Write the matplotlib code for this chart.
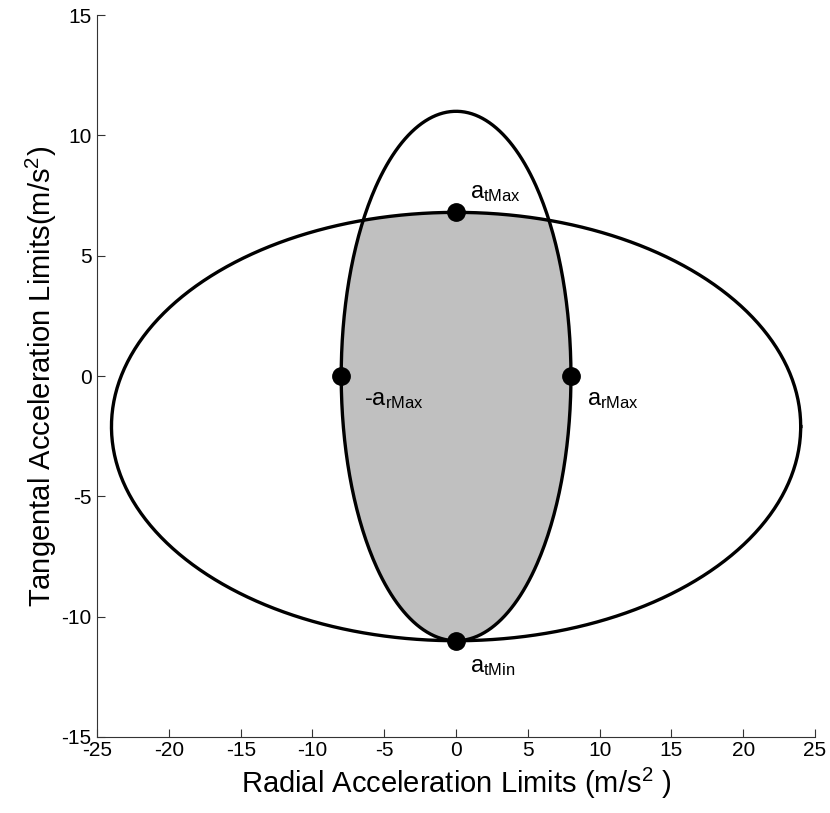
import numpy as np
import matplotlib
matplotlib.use("Agg")
import matplotlib.pyplot as plt

plt.rcParams["font.family"] = ["Liberation Sans", "DejaVu Sans"]
plt.rcParams["mathtext.fontset"] = "custom"
plt.rcParams["mathtext.rm"] = "Liberation Sans"
plt.rcParams["mathtext.it"] = "Liberation Sans"
plt.rcParams["axes.unicode_minus"] = False

# ellipse parameters: centre x, centre y, semi-axis x, semi-axis y
outer_ellipse = [0.0, -2.1, 24.0, 8.9]
inner_ellipse = [0.0, 0.0, 8.0, 11.0]

# limit points and their labels
pt_x = [0.0, 0.0, -8.0, 8.0]
pt_y = [6.8, -11.0, 0.0, 0.0]
pt_labels = [r"a$_{\rm tMax}$", r"a$_{\rm tMin}$", r"-a$_{\rm rMax}$", r"a$_{\rm rMax}$"]
label_x = [1.0, 1.0, -6.4, 9.1]
label_y = [7.6, -12.1, -1.0, -1.0]

x_ticks = [-25, -20, -15, -10, -5, 0, 5, 10, 15, 20, 25]
y_ticks = [-15, -10, -5, 0, 5, 10, 15]


def ellipse_xy(p, n=400):
    t = np.linspace(0, 2 * np.pi, n)
    return p[0] + p[2] * np.cos(t), p[1] + p[3] * np.sin(t)


def half_height(p, x):
    return p[3] * np.sqrt(np.clip(1 - ((x - p[0]) / p[2]) ** 2, 0, None))


fig = plt.figure(figsize=(8.30, 8.13), dpi=100)
ax = fig.add_axes([0.117, 0.0935, 0.865, 0.888])

# shaded region common to both ellipses
xs = np.linspace(inner_ellipse[0] - inner_ellipse[2], inner_ellipse[0] + inner_ellipse[2], 600)
upper = np.minimum(outer_ellipse[1] + half_height(outer_ellipse, xs),
                   inner_ellipse[1] + half_height(inner_ellipse, xs))
lower = np.maximum(outer_ellipse[1] - half_height(outer_ellipse, xs),
                   inner_ellipse[1] - half_height(inner_ellipse, xs))
ax.fill_between(xs, lower, upper, color="#c0c0c0", lw=0, zorder=1)

for p in (outer_ellipse, inner_ellipse):
    ex, ey = ellipse_xy(p)
    ax.plot(ex, ey, color="black", lw=2.4, zorder=2)

ax.plot(pt_x, pt_y, "o", color="black", ms=12.5, zorder=3)
for lx, ly, s in zip(label_x, label_y, pt_labels):
    ax.text(lx, ly, s, fontsize=17, ha="left", va="center", zorder=4)

ax.set_xlim(-25, 25)
ax.set_ylim(-15, 15)
ax.set_xticks(x_ticks)
ax.set_yticks(y_ticks)
ax.tick_params(direction="in", length=6, width=0.8, labelsize=15, color="#333333")
ax.tick_params(axis="x", pad=3)
ax.tick_params(axis="y", pad=4)
for side in ("top", "right"):
    ax.spines[side].set_visible(False)
for side in ("left", "bottom"):
    ax.spines[side].set_color("#333333")
    ax.spines[side].set_linewidth(0.8)

ax.set_xlabel(r"Radial Acceleration Limits (m/s$^2$ )", fontsize=21, labelpad=4)
ax.set_ylabel(r"Tangental Acceleration Limits(m/s$^2$)", fontsize=21, labelpad=2)

fig.savefig("out.png", dpi=100)
